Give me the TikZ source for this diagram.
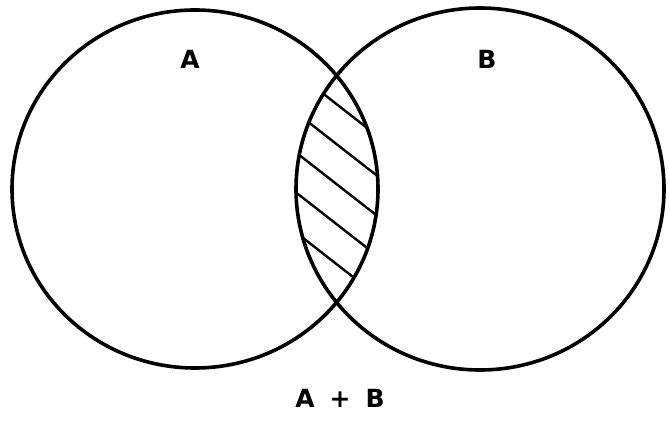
\documentclass[tikz,border=0pt]{standalone}
\usepackage{fontspec}
\setmainfont{DejaVu Sans}
\begin{document}
\begin{tikzpicture}[x=1pt,y=1pt,
  outline/.style={line width=3.6pt,draw=black},
  hatchline/.style={line width=2.4pt,draw=black},
  lbl/.style={font=\fontsize{25}{25}\selectfont\bfseries,inner sep=0pt}]
\useasboundingbox[fill=white] (0,0) rectangle (670,421);
\begin{scope}
  \clip (195,232) ellipse [x radius=183, y radius=179];
  \clip (480,232) ellipse [x radius=184, y radius=181];
  \foreach \k in {0,...,5}{
    \draw[hatchline] (280,{361-40*\k}) -- (400,{267.4-40*\k});
  }
\end{scope}
\draw[outline] (195,232) ellipse [x radius=183, y radius=179];
\draw[outline] (480,232) ellipse [x radius=184, y radius=181];
\node[lbl] (la) at (190,362) {A};
\node[lbl] (lb) at (487,362) {B};
\node[lbl] (sum) at (340,23) {A\hspace{0.6em}+\hspace{0.6em}B};
\end{tikzpicture}
\end{document}
